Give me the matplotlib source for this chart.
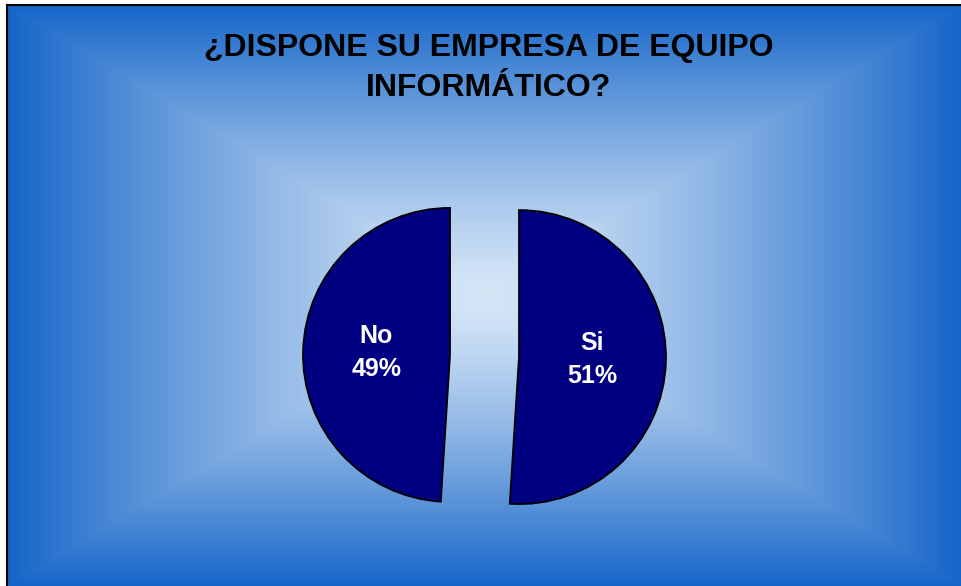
import numpy as np
import matplotlib
matplotlib.use("Agg")
import matplotlib.pyplot as plt
from matplotlib.colors import to_rgb

# Data
categories = ["Si", "No"]
values = [51, 49]
title = "¿DISPONE SU EMPRESA DE EQUIPO\nINFORMÁTICO?"

plt.rcParams['font.family'] = ['Liberation Sans', 'DejaVu Sans']

W, H = 962, 586
fig = plt.figure(figsize=(W / 100, H / 100), dpi=100)
fig.patch.set_facecolor('white')

# Background gradient (rectangular, from centre)
left_px, top_px = 8, 5
bg = fig.add_axes([left_px / W, 0, (W - left_px) / W, (H - top_px) / H])
bg.set_axis_off()
nx, ny = W - left_px, H - top_px
xs = np.linspace(-1, 1, nx)
ys = np.linspace(-1, 1, ny)
X, Y = np.meshgrid(xs, ys)
t = np.maximum(np.abs(X), np.abs(Y))
t = t ** 1.3
c_center = np.array(to_rgb('#d6e6f7'))
c_edge = np.array(to_rgb('#1565c8'))
img = c_center[None, None, :] * (1 - t[..., None]) + c_edge[None, None, :] * t[..., None]
bg.imshow(img, aspect='auto', extent=[0, 1, 0, 1], interpolation='nearest')
bg.set_xlim(0, 1)
bg.set_ylim(0, 1)

# Border lines (left and top)
fig.add_artist(plt.Line2D([7.5 / W, 7.5 / W], [0, (H - 4.5) / H], color='black', lw=1.5))
fig.add_artist(plt.Line2D([7.5 / W, 1], [(H - 4.5) / H, (H - 4.5) / H], color='black', lw=1.5))

# Pie axes in pixel coordinates
ax = fig.add_axes([0, 0, 1, 1])
ax.patch.set_alpha(0)
labels_iter = iter(categories)

def fmt(p):
    return f"{next(labels_iter)}\n{p:.0f}%"

cx, cy = 484.5, H - 356
radius = 147
wedges, texts, autotexts = ax.pie(
    values, startangle=90, counterclock=False, center=(cx, cy), radius=radius,
    explode=[34.5, 34.5], colors=['#000080', '#000080'],
    wedgeprops=dict(edgecolor='black', linewidth=1.3),
    autopct=fmt, pctdistance=0.5,
    textprops=dict(color='white', fontsize=18, fontweight='bold', linespacing=1.45))
ax.set_xlim(0, W)
ax.set_ylim(0, H)
ax.set_aspect('equal')
ax.set_axis_off()

fig.text(489 / W, (H - 33) / H, title, ha='center', va='top', fontsize=23,
         fontweight='bold', color='black', linespacing=1.45)

fig.savefig('out.png', dpi=100)
